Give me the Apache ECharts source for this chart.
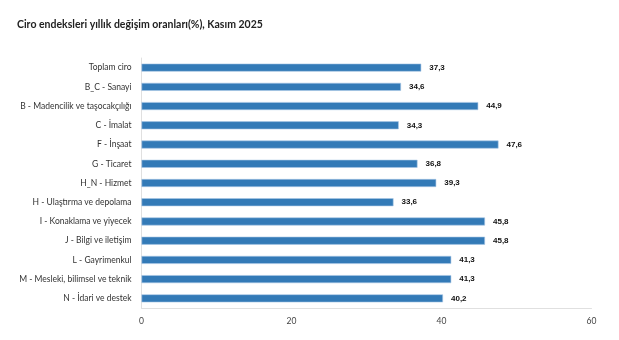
<!DOCTYPE html>
<html><head><meta charset="utf-8">
<script src="https://cdn.jsdelivr.net/npm/echarts@6/dist/echarts.min.js"></script>
<style>html,body{margin:0;padding:0;background:#fff}#c{width:619px;height:340px}</style>
</head><body><div id="c"></div>
<script>
const titleText = 'Ciro endeksleri yıllık değişim oranları(%), Kasım 2025';
const categories = ['Toplam ciro','B_C - Sanayi','B - Madencilik ve taşocakçılığı','C - İmalat','F - İnşaat','G - Ticaret','H_N - Hizmet','H - Ulaştırma ve depolama','I - Konaklama ve yiyecek','J - Bilgi ve iletişim','L - Gayrimenkul','M - Mesleki, bilimsel ve teknik','N - İdari ve destek'];
const values = [37.3,34.6,44.9,34.3,47.6,36.8,39.3,33.6,45.8,45.8,41.3,41.3,40.2];
const xTicks = [0,20,40,60];

const chart = echarts.init(document.getElementById('c'));
chart.setOption({
  animation:false,
  title:{text:titleText,left:12,top:14,textStyle:{fontFamily:'Lato',fontSize:10.5,fontWeight:'bold',color:'#222'}},
  grid:{left:141.5,right:27.5,top:58,bottom:32,containLabel:false},
  xAxis:{type:'value',min:xTicks[0],max:xTicks[xTicks.length-1],interval:20,
    axisLine:{show:true,lineStyle:{color:'#e0e0e0'}},axisTick:{show:false},splitLine:{show:false},
    axisLabel:{fontFamily:'Lato',fontSize:8.5,color:'#444',margin:9}},
  yAxis:{type:'category',inverse:true,data:categories,
    axisLine:{show:true,lineStyle:{color:'#e0e0e0'}},axisTick:{show:false},
    axisLabel:{fontFamily:'Lato',fontSize:8.5,color:'#333',margin:10}},
  series:[{type:'bar',data:values,barWidth:8,
    itemStyle:{color:'#337ab7',borderColor:'#a9c8e6',borderWidth:0.6},
    label:{show:true,position:'right',distance:8,fontFamily:'Liberation Sans',fontSize:8,fontWeight:'bold',color:'#111',
      formatter:p=>String(p.value).replace('.',',')}}]
});
</script></body></html>
